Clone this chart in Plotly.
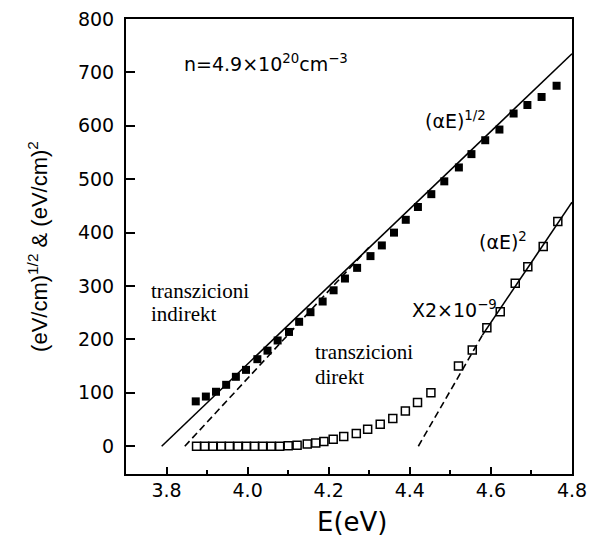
import plotly.graph_objects as go

# (alpha E)^1/2 data (filled squares)
e_half = [3.872, 3.897, 3.922, 3.947, 3.971, 3.996, 4.024, 4.049, 4.074, 4.102,
          4.127, 4.155, 4.185, 4.212, 4.240, 4.270, 4.303, 4.331, 4.361, 4.390,
          4.420, 4.453, 4.485, 4.521, 4.552, 4.586, 4.621, 4.656, 4.690, 4.725, 4.762]
y_half = [84, 93, 102, 115, 130, 143, 163, 179, 198, 214,
          233, 251, 271, 292, 314, 334, 356, 376, 400, 424,
          448, 472, 496, 522, 547, 573, 593, 623, 639, 654, 675]

# (alpha E)^2 data x 2e-9 (open squares)
e_sq = [3.874, 3.894, 3.914, 3.935, 3.955, 3.976, 3.997, 4.017, 4.037, 4.058, 4.079,
        4.100, 4.122, 4.147, 4.168, 4.188, 4.211, 4.237, 4.268, 4.296, 4.327, 4.358,
        4.389, 4.419, 4.452, 4.520, 4.554, 4.590, 4.623, 4.660, 4.691, 4.729, 4.765]
y_sq = [0, 0, 0, 0, 0, 0, 0, 0, 0, 0, 0,
        1, 2, 4, 6, 9, 13, 18, 24, 32, 41, 52,
        66, 82, 100, 150, 180, 222, 252, 305, 336, 374, 421]

# fit lines (end points)
fit_half_solid_e = [3.788, 4.8]
fit_half_solid_y = [0, 735]
fit_half_dash_e = [3.845, 4.30]
fit_half_dash_y = [0, 373]
fit_sq_dash_e = [4.421, 4.579]
fit_sq_dash_y = [0, 208]
fit_sq_solid_e = [4.579, 4.8]
fit_sq_solid_y = [208, 457]

x_ticks = [3.8, 4.0, 4.2, 4.4, 4.6, 4.8]
y_ticks = [0, 100, 200, 300, 400, 500, 600, 700, 800]

SANS = "DejaVu Sans"
SERIF = "Liberation Serif"

fig = go.Figure()
line_style = dict(color="black", width=1.6)
fig.add_trace(go.Scatter(x=fit_half_solid_e, y=fit_half_solid_y, mode="lines",
                         line=line_style, showlegend=False, hoverinfo="skip"))
fig.add_trace(go.Scatter(x=fit_half_dash_e, y=fit_half_dash_y, mode="lines",
                         line=dict(color="black", width=1.6, dash="7px,4px"),
                         showlegend=False, hoverinfo="skip"))
fig.add_trace(go.Scatter(x=fit_sq_dash_e, y=fit_sq_dash_y, mode="lines",
                         line=dict(color="black", width=1.6, dash="7px,4px"),
                         showlegend=False, hoverinfo="skip"))
fig.add_trace(go.Scatter(x=fit_sq_solid_e, y=fit_sq_solid_y, mode="lines",
                         line=line_style, showlegend=False, hoverinfo="skip"))
fig.add_trace(go.Scatter(x=e_half, y=y_half, mode="markers", name="(αE)^1/2",
                         marker=dict(symbol="square", size=8, color="black"),
                         showlegend=False))
fig.add_trace(go.Scatter(x=e_sq, y=y_sq, mode="markers", name="(αE)^2",
                         marker=dict(symbol="square-open", size=8, color="black",
                                     line=dict(width=1.5, color="black")),
                         showlegend=False))

ann_font = dict(family=SANS, size=19, color="black")
serif_font = dict(family=SERIF, size=21, color="black")
annotations = [
    dict(x=3.837, y=718, text="n=4.9×10<sup>20</sup>cm<sup>−3</sup>", font=ann_font,
         xanchor="left", yanchor="middle", showarrow=False),
    dict(x=4.433, y=610, text="(αE)<sup>1/2</sup>", font=ann_font,
         xanchor="left", yanchor="middle", showarrow=False),
    dict(x=4.566, y=385, text="(αE)<sup>2</sup>", font=ann_font,
         xanchor="left", yanchor="middle", showarrow=False),
    dict(x=4.401, y=257, text="X2×10<sup>−9</sup>", font=ann_font,
         xanchor="left", yanchor="middle", showarrow=False),
    dict(x=3.756, y=291, text="transzicioni", font=serif_font,
         xanchor="left", yanchor="middle", showarrow=False),
    dict(x=3.756, y=247, text="indirekt", font=serif_font,
         xanchor="left", yanchor="middle", showarrow=False),
    dict(x=4.162, y=176, text="transzicioni", font=serif_font,
         xanchor="left", yanchor="middle", showarrow=False),
    dict(x=4.162, y=130, text="direkt", font=serif_font,
         xanchor="left", yanchor="middle", showarrow=False),
    # x axis title
    dict(x=0.507, y=-0.106, xref="paper", yref="paper", text="E(eV)",
         font=dict(family=SANS, size=26, color="black"),
         xanchor="center", yanchor="middle", showarrow=False),
]

fig.update_layout(
    width=601, height=536,
    margin=dict(l=118, r=37, t=11, b=70, autoexpand=False),
    paper_bgcolor="white", plot_bgcolor="white",
    annotations=annotations,
    xaxis=dict(
        range=[3.7, 4.8], tickvals=x_ticks, ticktext=[f"{v:.1f}" for v in x_ticks],
        ticks="inside", ticklen=7, tickwidth=1.5, tickcolor="black",
        minor=dict(dtick=0.1, tick0=3.8, ticks="inside", ticklen=4, tickwidth=1.5,
                   tickcolor="black", showgrid=False),
        showline=True, linecolor="black", linewidth=2, mirror=True,
        showgrid=False, zeroline=False, automargin=False,
        tickfont=dict(family=SANS, size=19, color="black"),
        ticklabelstandoff=-2, ticklabeloverflow="allow",
    ),
    yaxis=dict(
        range=[-52, 800], tickvals=y_ticks, ticktext=[str(v) for v in y_ticks],
        ticks="inside", ticklen=9, tickwidth=1.5, tickcolor="black",
        showline=True, linecolor="black", linewidth=2, mirror=True,
        showgrid=False, zeroline=False, automargin=False,
        tickfont=dict(family=SANS, size=19, color="black"),
        ticklabelstandoff=6, ticklabeloverflow="allow",
        title=dict(text="(eV/cm)<sup>1/2</sup> & (eV/cm)<sup>2</sup>",
                   font=dict(family="Liberation Sans", size=22, color="black"), standoff=24),
    ),
)

fig.write_html("out.html")
